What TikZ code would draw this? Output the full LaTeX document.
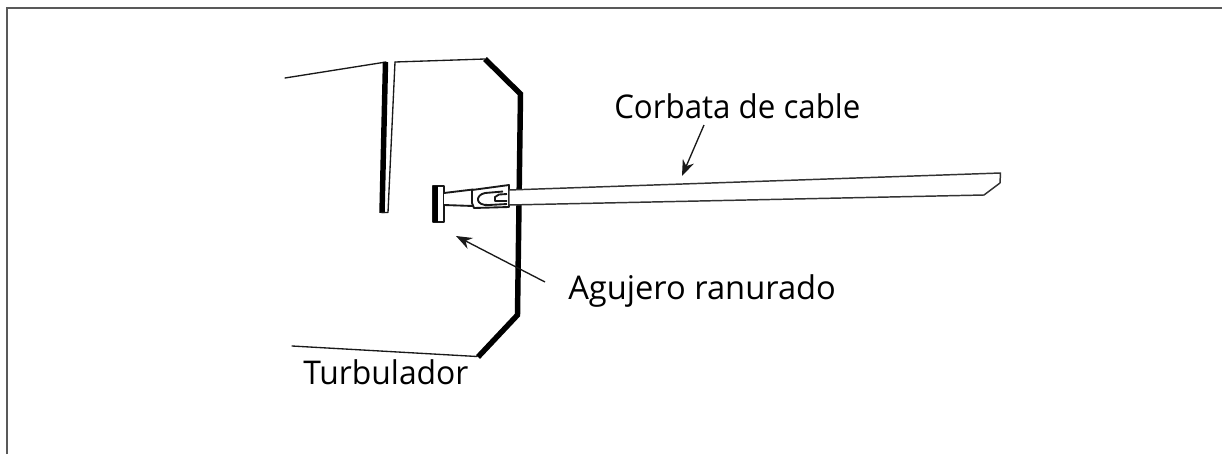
\documentclass[tikz,border=0pt]{standalone}
\usepackage{fontspec}
\setmainfont{Open Sans}
\usetikzlibrary{arrows.meta}
\tikzset{
  thinln/.style={draw=black!90,line width=1pt,line cap=round,line join=round},
  thickln/.style={draw=black,line width=4.1pt,line join=miter},
  tieln/.style={draw=black!90,line width=1.4pt,fill=white,line join=round},
  strapln/.style={draw=black!80,line width=1.1pt,fill=white,line join=round},
  lbl/.style={font=\fontsize{24.5}{30}\selectfont,text=black,inner sep=0pt,anchor=base west},
  pointer/.style={draw=black!90,line width=1pt,-{Stealth[length=12pt,width=9pt]}},
  frameln/.style={draw=black!65,line width=1pt}
}
\begin{document}
\begin{tikzpicture}[x=0.75pt,y=-0.75pt]
\useasboundingbox (0,0) rectangle (1222,454);
\fill[white] (0,0) rectangle (1222,454);
\draw[frameln] (7,454) -- (7,8) -- (1222,8);
% turbulator outline
\draw[thinln] (285,78) -- (386,62);
\draw[thickln] (385.5,62) -- (382,213);
\draw[thinln] (395,62) -- (388,212.5) -- (381,212.5);
\draw[thinln] (395,62) -- (485,59);
\draw[thickln] (485,59) -- (520.5,94) -- (517.5,315) -- (478,357);
\draw[thinln] (292,346) -- (477,356.5);
% cable tie
\draw[tieln] (433,186) -- (444,186) -- (444,222) -- (433,222) -- cycle;
\fill[black] (433,186) rectangle (437.5,222);
\draw[tieln] (444,193) -- (473,189.5) -- (473,206) -- (444,205);
\draw[tieln] (472,190) -- (509,185) -- (509,207) -- (474,208) -- (472,203) -- cycle;
\draw[tieln] (503,191.5) -- (485,193) .. controls (475,195) and (475,206) .. (489,205) -- (507,204);
\draw[tieln] (507,194) -- (499,194.5) -- (495,197) -- (495,201) -- (507,201);
\draw[strapln] (509,190) -- (1000.5,173) -- (1000,183) -- (984,195) -- (509,205) -- cycle;
% labels
\node[lbl] (corbata) at (614,118) {\scalebox{0.957}[1]{Corbata de cable}};
\node[lbl] (agujero) at (568,299) {Agujero ranurado};
\node[lbl] (turbulador) at (303,384) {\scalebox{0.975}[1]{Turbulador}};
% pointers
\coordinate (ctail) at (704,125);
\coordinate (chead) at (682,176);
\coordinate (atail) at (545,282);
\coordinate (ahead) at (456,236);
\draw[pointer] (ctail) -- (chead);
\draw[pointer] (atail) -- (ahead);
\end{tikzpicture}
\end{document}
